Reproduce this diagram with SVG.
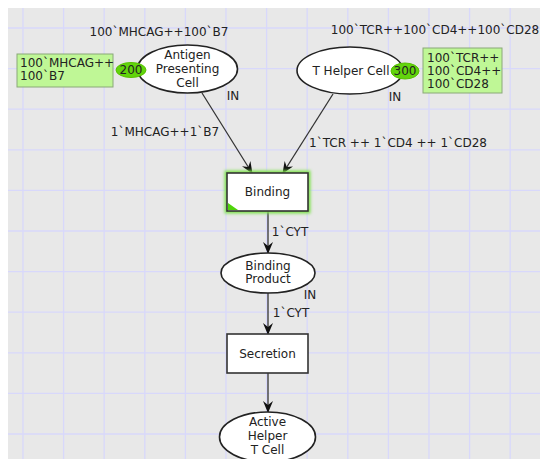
<svg xmlns="http://www.w3.org/2000/svg" width="540" height="459" viewBox="0 0 540 459">
<defs>
<style>
text{font-family:"DejaVu Sans",Verdana,sans-serif;font-size:12px;fill:#222}
.c{text-anchor:middle}
.g line{stroke:#d8d8fb;stroke-width:1.3}
.place{fill:#fff;stroke:#222;stroke-width:1.6}
.trans{fill:#fff;stroke:#333;stroke-width:1.6}
.tok{fill:#62d40c;stroke:#58c000;stroke-width:1}
.mark{fill:#bff796;stroke:#8aa878;stroke-width:1}
.arc{stroke:#333;stroke-width:1.3;fill:none;marker-end:url(#ah)}
</style>
<marker id="ah" viewBox="0 0 12 10" refX="11" refY="5" markerWidth="12" markerHeight="10" markerUnits="userSpaceOnUse" orient="auto">
<path d="M0,0 L12,5 L0,10 L4,5 z" fill="#111"/>
</marker>
<filter id="glow" x="-20%" y="-30%" width="140%" height="160%">
<feGaussianBlur stdDeviation="1.5"/>
</filter>
</defs>
<rect x="0" y="0" width="540" height="459" fill="#fff"/>
<rect x="8" y="8" width="532" height="451" fill="#e8e8e8"/>
<g class="g">
<line x1="23" y1="8" x2="23" y2="459"/>
<line x1="63.6" y1="8" x2="63.6" y2="459"/>
<line x1="104.2" y1="8" x2="104.2" y2="459"/>
<line x1="144.8" y1="8" x2="144.8" y2="459"/>
<line x1="185.4" y1="8" x2="185.4" y2="459"/>
<line x1="226" y1="8" x2="226" y2="459"/>
<line x1="266.6" y1="8" x2="266.6" y2="459"/>
<line x1="307.2" y1="8" x2="307.2" y2="459"/>
<line x1="347.8" y1="8" x2="347.8" y2="459"/>
<line x1="388.4" y1="8" x2="388.4" y2="459"/>
<line x1="429" y1="8" x2="429" y2="459"/>
<line x1="469.6" y1="8" x2="469.6" y2="459"/>
<line x1="510.2" y1="8" x2="510.2" y2="459"/>
<line x1="8" y1="28" x2="540" y2="28"/>
<line x1="8" y1="68.6" x2="540" y2="68.6"/>
<line x1="8" y1="109.2" x2="540" y2="109.2"/>
<line x1="8" y1="149.8" x2="540" y2="149.8"/>
<line x1="8" y1="190.4" x2="540" y2="190.4"/>
<line x1="8" y1="231" x2="540" y2="231"/>
<line x1="8" y1="271.6" x2="540" y2="271.6"/>
<line x1="8" y1="312.2" x2="540" y2="312.2"/>
<line x1="8" y1="352.8" x2="540" y2="352.8"/>
<line x1="8" y1="393.4" x2="540" y2="393.4"/>
<line x1="8" y1="434" x2="540" y2="434"/>
</g>
<g id="connectors">
<line class="arc" x1="202" y1="93" x2="252" y2="173"/>
<line class="arc" x1="333" y1="94" x2="283" y2="173"/>
<line class="arc" x1="268" y1="211" x2="268" y2="253"/>
<line class="arc" x1="268" y1="293" x2="268" y2="334"/>
<line class="arc" x1="268" y1="373" x2="268" y2="412"/>
<text class="c" x="165" y="136">1`MHCAG++1`B7</text>
<text class="c" x="233" y="100">IN</text>
<text class="c" x="398" y="147">1`TCR ++ 1`CD4 ++ 1`CD28</text>
<text class="c" x="395" y="101">IN</text>
<text class="c" x="290" y="236">1`CYT</text>
<text class="c" x="310" y="299">IN</text>
<text class="c" x="291" y="317">1`CYT</text>
</g>
<g id="apc">
<text class="c" x="159" y="36">100`MHCAG++100`B7</text>
<rect class="mark" x="17" y="54" width="96" height="33"/>
<text x="20" y="67">100`MHCAG++</text>
<text x="20" y="80">100`B7</text>
<ellipse class="place" cx="187.5" cy="69" rx="50" ry="24"/>
<text class="c" x="187.5" y="59">Antigen</text>
<text class="c" x="187.5" y="73">Presenting</text>
<text class="c" x="187.5" y="87">Cell</text>
<ellipse class="tok" cx="131" cy="70" rx="15" ry="7.5"/>
<text class="c" x="131" y="74">200</text>
</g>
<g id="thc">
<text class="c" x="435" y="34">100`TCR++100`CD4++100`CD28</text>
<rect class="mark" x="423" y="48" width="79" height="45"/>
<text x="427" y="62">100`TCR++</text>
<text x="427" y="75">100`CD4++</text>
<text x="427" y="88">100`CD28</text>
<ellipse class="place" cx="350" cy="70.5" rx="53" ry="23.5"/>
<text class="c" x="351" y="75">T Helper Cell</text>
<ellipse class="tok" cx="405" cy="71" rx="14" ry="8"/>
<text class="c" x="405" y="75">300</text>
</g>
<g id="binding">
<rect x="227" y="173" width="81" height="38" fill="none" stroke="#7ee24a" stroke-width="5" filter="url(#glow)"/>
<rect class="trans" x="227" y="173" width="81" height="38"/>
<path d="M228,203 L228,210 L238,210 z" fill="#4fd40a"/>
<text class="c" x="267.5" y="196">Binding</text>
</g>
<g id="bp">
<ellipse class="place" cx="268" cy="273" rx="47" ry="20"/>
<text class="c" x="268" y="270">Binding</text>
<text class="c" x="268" y="283">Product</text>
</g>
<g id="secretion">
<rect class="trans" x="227" y="334" width="81" height="39"/>
<text class="c" x="267.5" y="358">Secretion</text>
</g>
<g id="ahtc">
<ellipse class="place" cx="267.5" cy="437" rx="48" ry="25"/>
<text class="c" x="267.5" y="426">Active</text>
<text class="c" x="267.5" y="440">Helper</text>
<text class="c" x="267.5" y="454">T Cell</text>
</g>
</svg>
